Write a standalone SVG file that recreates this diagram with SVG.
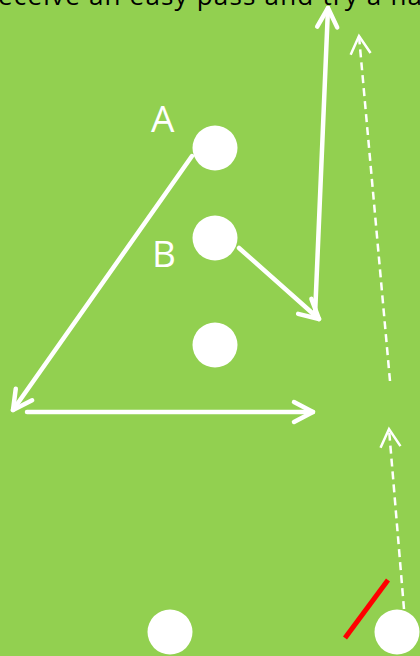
<svg xmlns="http://www.w3.org/2000/svg" width="420" height="656" viewBox="0 0 420 656">
  <style>
    .bg { fill: #92D050; }
    .player { fill: #FFFFFF; }
    .run { fill: none; stroke: #FFFFFF; stroke-width: 4.5; stroke-linecap: round; }
    .dash { fill: none; stroke: #FFFFFF; stroke-width: 2.5; stroke-dasharray: 8 5; }
    .label { font-family: "Open Sans", "Noto Sans", sans-serif; font-size: 37px; fill: #FFFFFF; }
    .title { font-family: "Open Sans", "Noto Sans", sans-serif; font-size: 26px; fill: #000000; }
    .block { fill: none; stroke: #FF0000; stroke-width: 5; }
  </style>
  <defs>
    <marker id="solidHead" markerUnits="userSpaceOnUse" viewBox="-24 -14 28 28" refX="0" refY="0" markerWidth="28" markerHeight="28" orient="auto" overflow="visible">
      <path d="M -19,-10 L 0,0 L -19,10" fill="none" stroke="#FFFFFF" stroke-width="4.5" stroke-linecap="round" stroke-linejoin="round"/>
    </marker>
    <marker id="dashHead" markerUnits="userSpaceOnUse" viewBox="-24 -14 28 28" refX="0" refY="0" markerWidth="28" markerHeight="28" orient="auto" overflow="visible">
      <path d="M -18,-10 L 0,0 L -18,10" fill="none" stroke="#FFFFFF" stroke-width="2.5" stroke-linejoin="miter"/>
    </marker>
  </defs>

  <rect class="bg" x="0" y="0" width="420" height="656"/>

  <text class="title" x="-2" y="5" textLength="424" lengthAdjust="spacing">eceive an easy pass and try a ha</text>

  <g id="connectors">
    <line class="run" x1="192" y1="156" x2="13" y2="410" marker-end="url(#solidHead)"/>
    <line class="run" x1="27" y1="412" x2="313" y2="412" marker-end="url(#solidHead)"/>
    <line class="run" x1="239" y1="248" x2="319" y2="319" marker-end="url(#solidHead)"/>
    <line class="run" x1="315" y1="316" x2="328" y2="8" marker-end="url(#solidHead)"/>
    <line class="dash" x1="390" y1="381" x2="359" y2="36" marker-end="url(#dashHead)"/>
    <line class="dash" x1="404" y1="609" x2="389" y2="429" marker-end="url(#dashHead)"/>
  </g>

  <g id="playerA">
    <circle class="player" cx="215" cy="148" r="22.5"/>
    <text class="label" x="151" y="132">A</text>
  </g>
  <g id="playerB">
    <circle class="player" cx="215" cy="238" r="22.5"/>
    <text class="label" x="152" y="267">B</text>
  </g>
  <g id="player3">
    <circle class="player" cx="215" cy="345" r="22.5"/>
  </g>
  <g id="player4">
    <circle class="player" cx="170" cy="632" r="22.5"/>
  </g>
  <g id="player5">
    <circle class="player" cx="397" cy="632" r="22.5"/>
  </g>
  <g id="defender">
    <line class="block" x1="388" y1="580" x2="345" y2="638"/>
  </g>
</svg>
